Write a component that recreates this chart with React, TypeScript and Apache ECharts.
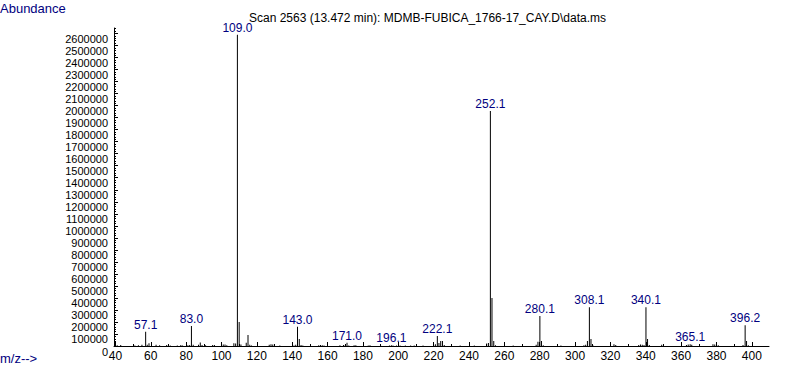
import React, { useEffect, useRef } from "react";
import * as echarts from "echarts";

const titleText = "Scan 2563 (13.472 min): MDMB-FUBICA_1766-17_CAY.D\\data.ms";
const yAxisName = "Abundance";
const xAxisName = "m/z-->";

const mz = [
  41, 43, 51, 53, 55, 57.1, 58, 59, 63, 65, 69, 71, 75, 77, 78, 81, 82, 83.0, 84, 87, 88, 89, 91, 95, 96,
  101, 102, 103, 107, 108, 109.0, 110, 111, 114, 115, 116, 117, 127, 128, 129, 130, 133, 141, 142, 143.0,
  144, 145, 146, 155, 156, 157, 158, 167, 169, 170, 171.0, 172, 175, 176, 183, 184, 190, 195, 196.1, 197,
  199, 201, 204, 207, 209, 214, 220, 221, 222.1, 223, 224, 225, 226, 235, 243, 250, 251, 252.1, 253, 254,
  255, 265, 278, 279, 280.1, 281, 282, 292, 305, 306, 307, 308.1, 309, 310, 322, 323, 336, 337, 338, 339,
  340.1, 341, 342, 349, 350, 363, 364, 365.1, 366, 378, 379, 380, 381, 395, 396.2, 397, 398,
];

const abundance = [
  6000, 8000, 5000, 6000, 10000, 119000, 10000, 22000, 10000, 6000, 8000, 5000, 5000, 8000, 4000, 6000, 8000,
  166000, 10000, 10000, 30000, 8000, 6000, 8000, 8000, 12000, 12000, 6000, 22000, 20000, 2590000, 200000,
  12000, 27000, 92000, 10000, 5000, 10000, 15000, 12000, 5000, 5000, 5000, 10000, 161000, 58000, 8000, 5000,
  6000, 8000, 6000, 5000, 6000, 8000, 6000, 27000, 5000, 6000, 6000, 5000, 6000, 4000, 5000, 6000, 5000,
  4000, 5000, 5000, 4000, 5000, 4000, 8000, 15000, 83000, 25000, 42000, 42000, 8000, 4000, 4000, 20000,
  25000, 1955000, 400000, 42000, 6000, 4000, 10000, 36000, 250000, 42000, 6000, 4000, 6000, 10000, 42000,
  322000, 58000, 8000, 15000, 8000, 8000, 12000, 10000, 8000, 322000, 58000, 8000, 10000, 5000, 8000, 12000,
  15000, 10000, 15000, 12000, 8000, 6000, 8000, 172000, 42000, 6000,
];

const peakLabels: [number, string][] = [
  [57.1, "57.1"], [83.0, "83.0"], [109.0, "109.0"], [143.0, "143.0"], [171.0, "171.0"], [196.1, "196.1"],
  [222.1, "222.1"], [252.1, "252.1"], [280.1, "280.1"], [308.1, "308.1"], [340.1, "340.1"], [365.1, "365.1"],
  [396.2, "396.2"],
];

const xTicks = [40, 60, 80, 100, 120, 140, 160, 180, 200, 220, 240, 260, 280, 300, 320, 340, 360, 380, 400];
const yTicks = [
  0, 100000, 200000, 300000, 400000, 500000, 600000, 700000, 800000, 900000, 1000000, 1100000, 1200000,
  1300000, 1400000, 1500000, 1600000, 1700000, 1800000, 1900000, 2000000, 2100000, 2200000, 2300000,
  2400000, 2500000, 2600000,
];

const NAVY = "#000080";
const FONT = "Liberation Sans";

export default function App() {
  const ref = useRef<HTMLDivElement>(null);
  useEffect(() => {
    if (!ref.current) return;
    const chart = echarts.init(ref.current, undefined, { renderer: "svg" });
    const xMin = 39.2;
    const xMax = 409.7;
    const yMax = 2646000;
    const minorX: number[] = [];
    for (let v = 40; v <= 409; v += 10) minorX.push(v);
    const minorY: number[] = [];
    for (let v = 0; v <= yMax; v += 20000) minorY.push(v);

    const labelMap = new Map(peakLabels.map(([m, s]) => [m, s]));
    const data = mz.map((m, i) => {
      const lbl = labelMap.get(m);
      const item: any = { value: [m, abundance[i]] };
      if (lbl) {
        item.label = {
          show: true,
          position: "top",
          distance: 1,
          formatter: lbl,
          color: NAVY,
          fontFamily: FONT,
          fontSize: 12,
        };
      }
      return item;
    });

    chart.setOption({
      animation: false,
      backgroundColor: "#ffffff",
      grid: { left: 114, right: 18, top: 28, bottom: 21, containLabel: false },
      graphic: [
        {
          type: "text",
          left: 249,
          top: 12,
          style: { text: titleText, fill: "#000000", font: `12px "${FONT}"` },
        },
        {
          type: "text",
          left: 0,
          top: 2,
          style: { text: yAxisName, fill: NAVY, font: `13px "${FONT}"` },
        },
        {
          type: "text",
          left: 0,
          top: 352,
          style: { text: xAxisName, fill: NAVY, font: `13px "${FONT}"` },
        },
      ],
      xAxis: [
        {
          type: "value",
          min: xMin,
          max: xMax,
          axisLine: { show: true, lineStyle: { color: "#000", width: 1 } },
          axisTick: { show: true, inside: true, length: 4, customValues: xTicks, lineStyle: { color: "#000" } },
          axisLabel: {
            show: true,
            customValues: xTicks,
            color: "#000",
            fontFamily: FONT,
            fontSize: 12,
            margin: 4,
          },
          splitLine: { show: false },
        },
        {
          type: "value",
          min: xMin,
          max: xMax,
          position: "bottom",
          axisLine: { show: false },
          axisTick: { show: true, inside: true, length: 2, customValues: minorX, lineStyle: { color: "#000" } },
          axisLabel: { show: false },
          splitLine: { show: false },
        },
      ],
      yAxis: [
        {
          type: "value",
          min: 0,
          max: yMax,
          axisLine: { show: true, lineStyle: { color: "#000", width: 1 } },
          axisTick: { show: true, inside: true, length: 4, customValues: yTicks, lineStyle: { color: "#000" } },
          axisLabel: {
            show: true,
            customValues: yTicks,
            formatter: (v: number) => String(Math.round(v)),
            color: "#000",
            fontFamily: FONT,
            fontSize: 11,
            lineHeight: 11,
            verticalAlign: "top",
            margin: 6,
          },
          splitLine: { show: false },
        },
        {
          type: "value",
          min: 0,
          max: yMax,
          position: "left",
          axisLine: { show: false },
          axisTick: { show: true, inside: true, length: 2, customValues: minorY, lineStyle: { color: "#000" } },
          axisLabel: { show: false },
          splitLine: { show: false },
        },
      ],
      series: [
        {
          type: "bar",
          xAxisIndex: 0,
          yAxisIndex: 0,
          barWidth: 1,
          itemStyle: { color: "#000000" },
          data,
        },
      ],
    });
    return () => chart.dispose();
  }, []);
  return (
    <div
      ref={ref}
      style={{ position: "fixed", left: 0, top: 0, width: 787, height: 367, background: "#fff" }}
    />
  );
}
